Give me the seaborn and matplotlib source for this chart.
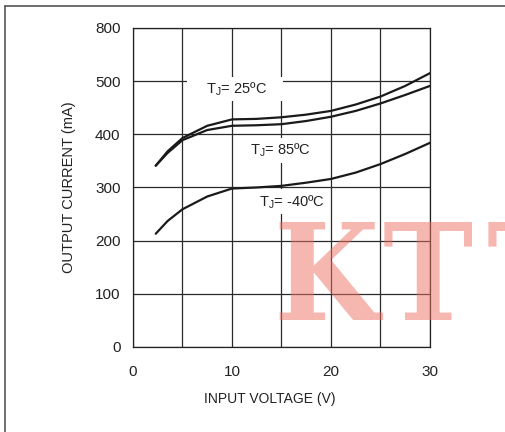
import pandas as pd
import matplotlib.pyplot as plt
import seaborn as sns
from matplotlib.lines import Line2D

sns.set_style("white")
plt.rcParams['font.family'] = ['Liberation Sans', 'DejaVu Sans']

# data
vin = [2.3, 3.5, 5, 7.5, 10, 12.5, 15, 17.5, 20, 22.5, 25, 27.5, 30]
i_25 = [341, 368, 393, 416, 428, 429, 432, 437, 444, 456, 471, 491, 515]
i_85 = [341, 365, 389, 408, 416, 417, 419, 425, 433, 444, 458, 474, 491]
i_m40 = [213, 237, 259, 283, 298, 300, 303, 309, 316, 328, 344, 363, 384]

labels = [r"    T$_\mathregular{J}$= 25ºC    ", r"T$_\mathregular{J}$= 85ºC", r"T$_\mathregular{J}$= -40ºC"]
label_pos = [(10.3, 485), (14.85, 370), (16.0, 273)]

y_ticks = [0, 100, 200, 300, 400, 500, 600]
y_ticklabels = ["0", "100", "200", "300", "400", "500", "800"]

watermark = ["K", "T", "T"]

df = pd.DataFrame({
    "vin": vin * 3,
    "iout": i_25 + i_85 + i_m40,
    "curve": ["25"] * len(vin) + ["85"] * len(vin) + ["-40"] * len(vin),
})

fig = plt.figure(figsize=(5.06, 4.32), dpi=100)
ax = fig.add_axes([0.2628, 0.1968, 0.587, 0.7385])

sns.lineplot(data=df, x="vin", y="iout", hue="curve", palette=["#1a1a1a"] * 3,
             linewidth=1.6, legend=False, ax=ax, zorder=5)

ax.set_xlim(0, 30)
ax.set_ylim(0, 600)
ax.set_xticks(range(0, 31, 5))
ax.set_xticklabels(["0", "", "10", "", "20", "", "30"])
ax.set_yticks(y_ticks)
ax.set_yticklabels(y_ticklabels)
ax.grid(True, color="#2a2a2a", linewidth=0.9)
ax.tick_params(length=0, labelsize=11, colors="#222222")
ax.tick_params(axis="x", pad=13)
ax.tick_params(axis="y", pad=9)
for sp in ax.spines.values():
    sp.set_color("#222222")
    sp.set_linewidth(0.9)

ax.set_xlabel("INPUT VOLTAGE (V)", fontsize=10, color="#222222", va="top")
ax.xaxis.set_label_coords(0.461, -0.142)
ax.set_ylabel("OUTPUT CURRENT (mA)", fontsize=10.5, color="#222222", labelpad=14)

for txt, (x, y) in zip(labels, label_pos):
    ax.text(x, y, txt, fontsize=10.5, ha="center", va="center", color="#222222", zorder=4,
            bbox=dict(facecolor="white", edgecolor="none", pad=2.5))

# watermark, one letter at a time
for ch, px in zip(watermark, [273, 383, 487]):
    fig.text(px / 506, 0.259, ch, fontsize=97, family="DejaVu Serif", fontstretch="condensed",
             fontweight="bold", color="#ec7063", alpha=0.5, va="baseline", ha="left")

# outer frame
fig.add_artist(Line2D([5.5 / 506, 5.5 / 506], [0, 1 - 5.5 / 432], transform=fig.transFigure,
                      color="#555555", linewidth=1.2))
fig.add_artist(Line2D([5.5 / 506, 1], [1 - 5.5 / 432, 1 - 5.5 / 432], transform=fig.transFigure,
                      color="#555555", linewidth=1.2))

fig.savefig("out.png", dpi=100)
